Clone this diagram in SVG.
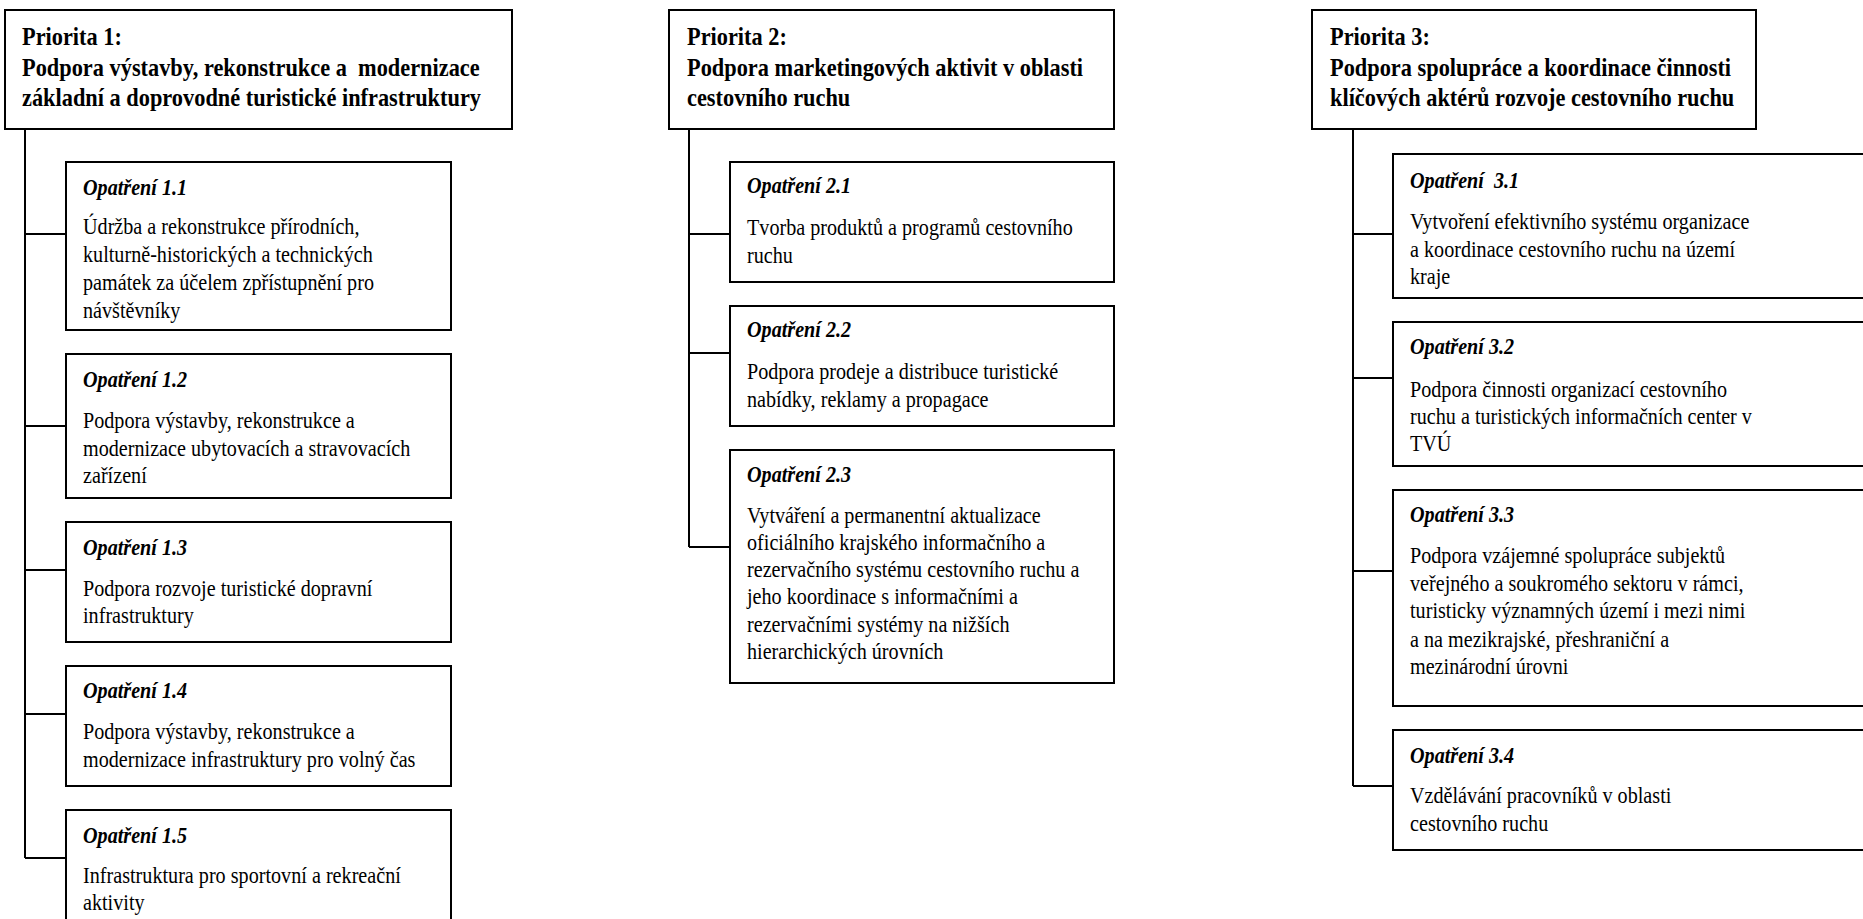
<svg xmlns="http://www.w3.org/2000/svg" width="1863" height="919" viewBox="0 0 1863 919">
<style>
.box{fill:#fff;stroke:#000;stroke-width:2}
.con{fill:none;stroke:#000;stroke-width:2}
.pt{font-family:"Liberation Serif","Times New Roman",serif;font-size:26px;font-weight:bold;fill:#000}
.ot{font-family:"Liberation Serif","Times New Roman",serif;font-size:24px;font-weight:bold;font-style:italic;fill:#000}
.bt{font-family:"Liberation Serif","Times New Roman",serif;font-size:24px;fill:#000}
</style>
<rect width="1863" height="919" fill="#fff"/>
<g id="connectors">
<path class="con" d="M25 129V858M25 234H66M25 426H66M25 570H66M25 714H66M25 858H66"/>
<path class="con" d="M689 129V547M689 234H730M689 353H730M689 547H730"/>
<path class="con" d="M1353 129V786M1353 234H1393M1353 378H1393M1353 571H1393M1353 786H1393"/>
</g>
<g id="p1">
<rect class="box" x="5" y="10" width="507" height="119"/>
<text class="pt" transform="translate(22 0) scale(0.86 1)"><tspan x="0" y="45">Priorita 1:</tspan><tspan x="0" y="76">Podpora výstavby, rekonstrukce a&#160; modernizace</tspan><tspan x="0" y="106">základní a doprovodné turistické infrastruktury</tspan></text>
</g>
<g id="o11">
<rect class="box" x="66" y="162" width="385" height="168"/>
<text class="ot" transform="translate(83 0) scale(0.84 1)"><tspan x="0" y="195">Opatření 1.1</tspan></text>
<text class="bt" transform="translate(83 0) scale(0.84 1)"><tspan x="0" y="234">Údržba a rekonstrukce přírodních,</tspan><tspan x="0" y="262">kulturně-historických a technických</tspan><tspan x="0" y="290">památek za účelem zpřístupnění pro</tspan><tspan x="0" y="318">návštěvníky</tspan></text>
</g>
<g id="o12">
<rect class="box" x="66" y="354" width="385" height="144"/>
<text class="ot" transform="translate(83 0) scale(0.84 1)"><tspan x="0" y="387">Opatření 1.2</tspan></text>
<text class="bt" transform="translate(83 0) scale(0.84 1)"><tspan x="0" y="428">Podpora výstavby, rekonstrukce a</tspan><tspan x="0" y="456">modernizace ubytovacích a stravovacích</tspan><tspan x="0" y="483">zařízení</tspan></text>
</g>
<g id="o13">
<rect class="box" x="66" y="522" width="385" height="120"/>
<text class="ot" transform="translate(83 0) scale(0.84 1)"><tspan x="0" y="555">Opatření 1.3</tspan></text>
<text class="bt" transform="translate(83 0) scale(0.84 1)"><tspan x="0" y="596">Podpora rozvoje turistické dopravní</tspan><tspan x="0" y="623">infrastruktury</tspan></text>
</g>
<g id="o14">
<rect class="box" x="66" y="666" width="385" height="120"/>
<text class="ot" transform="translate(83 0) scale(0.84 1)"><tspan x="0" y="698">Opatření 1.4</tspan></text>
<text class="bt" transform="translate(83 0) scale(0.84 1)"><tspan x="0" y="739">Podpora výstavby, rekonstrukce a</tspan><tspan x="0" y="767">modernizace infrastruktury pro volný čas</tspan></text>
</g>
<g id="o15">
<rect class="box" x="66" y="810" width="385" height="120"/>
<text class="ot" transform="translate(83 0) scale(0.84 1)"><tspan x="0" y="843">Opatření 1.5</tspan></text>
<text class="bt" transform="translate(83 0) scale(0.84 1)"><tspan x="0" y="883">Infrastruktura pro sportovní a rekreační</tspan><tspan x="0" y="910">aktivity</tspan></text>
</g>
<g id="p2">
<rect class="box" x="669" y="10" width="445" height="119"/>
<text class="pt" transform="translate(687 0) scale(0.86 1)"><tspan x="0" y="45">Priorita 2:</tspan><tspan x="0" y="76">Podpora marketingových aktivit v oblasti</tspan><tspan x="0" y="106">cestovního ruchu</tspan></text>
</g>
<g id="o21">
<rect class="box" x="730" y="162" width="384" height="120"/>
<text class="ot" transform="translate(747 0) scale(0.84 1)"><tspan x="0" y="193">Opatření 2.1</tspan></text>
<text class="bt" transform="translate(747 0) scale(0.84 1)"><tspan x="0" y="235">Tvorba produktů a programů cestovního</tspan><tspan x="0" y="263">ruchu</tspan></text>
</g>
<g id="o22">
<rect class="box" x="730" y="306" width="384" height="120"/>
<text class="ot" transform="translate(747 0) scale(0.84 1)"><tspan x="0" y="337">Opatření 2.2</tspan></text>
<text class="bt" transform="translate(747 0) scale(0.84 1)"><tspan x="0" y="379">Podpora prodeje a distribuce turistické</tspan><tspan x="0" y="407">nabídky, reklamy a propagace</tspan></text>
</g>
<g id="o23">
<rect class="box" x="730" y="450" width="384" height="233"/>
<text class="ot" transform="translate(747 0) scale(0.84 1)"><tspan x="0" y="482">Opatření 2.3</tspan></text>
<text class="bt" transform="translate(747 0) scale(0.84 1)"><tspan x="0" y="523">Vytváření a permanentní aktualizace</tspan><tspan x="0" y="550">oficiálního krajského informačního a</tspan><tspan x="0" y="577">rezervačního systému cestovního ruchu a</tspan><tspan x="0" y="604">jeho koordinace s informačními a</tspan><tspan x="0" y="632">rezervačními systémy na nižších</tspan><tspan x="0" y="659">hierarchických úrovních</tspan></text>
</g>
<g id="p3">
<rect class="box" x="1312" y="10" width="444" height="119"/>
<text class="pt" transform="translate(1330 0) scale(0.86 1)"><tspan x="0" y="45">Priorita 3:</tspan><tspan x="0" y="76">Podpora spolupráce a koordinace činnosti</tspan><tspan x="0" y="106">klíčových aktérů rozvoje cestovního ruchu</tspan></text>
</g>
<g id="o31">
<rect class="box" x="1393" y="154" width="477" height="144"/>
<text class="ot" transform="translate(1410 0) scale(0.84 1)"><tspan x="0" y="188">Opatření&#160; 3.1</tspan></text>
<text class="bt" transform="translate(1410 0) scale(0.84 1)"><tspan x="0" y="229">Vytvoření efektivního systému organizace</tspan><tspan x="0" y="257">a koordinace cestovního ruchu na území</tspan><tspan x="0" y="284">kraje</tspan></text>
</g>
<g id="o32">
<rect class="box" x="1393" y="322" width="477" height="144"/>
<text class="ot" transform="translate(1410 0) scale(0.84 1)"><tspan x="0" y="354">Opatření 3.2</tspan></text>
<text class="bt" transform="translate(1410 0) scale(0.84 1)"><tspan x="0" y="397">Podpora činnosti organizací cestovního</tspan><tspan x="0" y="424">ruchu a turistických informačních center v</tspan><tspan x="0" y="451">TVÚ</tspan></text>
</g>
<g id="o33">
<rect class="box" x="1393" y="490" width="477" height="216"/>
<text class="ot" transform="translate(1410 0) scale(0.84 1)"><tspan x="0" y="522">Opatření 3.3</tspan></text>
<text class="bt" transform="translate(1410 0) scale(0.84 1)"><tspan x="0" y="563">Podpora vzájemné spolupráce subjektů</tspan><tspan x="0" y="591">veřejného a soukromého sektoru v rámci,</tspan><tspan x="0" y="618">turisticky významných území i mezi nimi</tspan><tspan x="0" y="647">a na mezikrajské, přeshraniční a</tspan><tspan x="0" y="674">mezinárodní úrovni</tspan></text>
</g>
<g id="o34">
<rect class="box" x="1393" y="730" width="477" height="120"/>
<text class="ot" transform="translate(1410 0) scale(0.84 1)"><tspan x="0" y="763">Opatření 3.4</tspan></text>
<text class="bt" transform="translate(1410 0) scale(0.84 1)"><tspan x="0" y="803">Vzdělávání pracovníků v oblasti</tspan><tspan x="0" y="831">cestovního ruchu</tspan></text>
</g>
</svg>
